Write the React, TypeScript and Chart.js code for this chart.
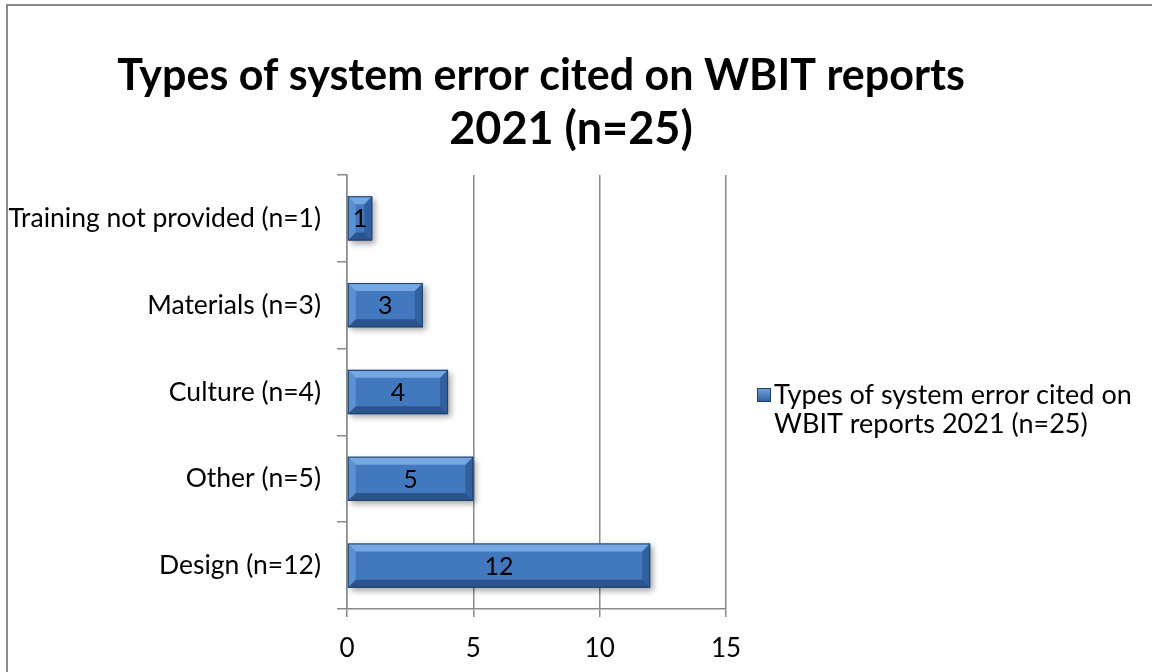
import React, { useEffect, useRef } from "react";
import { Chart, registerables } from "chart.js";

Chart.register(...registerables);

const categories = [
  "Training not provided (n=1)",
  "Materials (n=3)",
  "Culture (n=4)",
  "Other (n=5)",
  "Design (n=12)",
];
const values = [1, 3, 4, 5, 12];
const xTicks = [0, 5, 10, 15];
const seriesName = "Types of system error cited on WBIT reports 2021 (n=25)";
const legendLines = ["Types of system error cited on", "WBIT reports 2021 (n=25)"];
const titleLines = ["Types of system error cited on WBIT reports", "2021 (n=25)"];

const FONT = "Lato, 'Open Sans', sans-serif";

export default function App() {
  const ref = useRef<HTMLCanvasElement | null>(null);

  useEffect(() => {
    document.body.style.margin = "0";
    const canvas = ref.current!;
    const frame = {
      id: "frame",
      beforeDraw(chart: any) {
        const c = chart.ctx;
        c.save();
        c.fillStyle = "#ffffff";
        c.fillRect(0, 0, chart.width, chart.height);
        c.strokeStyle = "#8a8a8a";
        c.lineWidth = 2;
        c.strokeRect(7, 5, chart.width + 20, chart.height + 20);
        c.restore();
      },
      afterDraw(chart: any) {
        const c = chart.ctx;
        c.save();
        c.fillStyle = "#000";
        c.font = `bold 43px ${FONT}`;
        c.textAlign = "center";
        c.textBaseline = "middle";
        c.fillText(titleLines[0], 541, 76);
        c.font = `bold 45px ${FONT}`;
        c.fillText(titleLines[1], 571, 129);
        c.restore();
      },
    };
    const barShadow = {
      id: "barShadow",
      beforeDatasetsDraw(chart: any) {
        const c = chart.ctx;
        c.save();
        c.shadowColor = "rgba(0,0,0,0.35)";
        c.shadowBlur = 6;
        c.shadowOffsetX = 3;
        c.shadowOffsetY = 3;
      },
      afterDatasetsDraw(chart: any) {
        const c = chart.ctx;
        c.restore();
        const meta = chart.getDatasetMeta(0);
        meta.data.forEach((el: any, i: number) => {
          const { x, y, base, height } = el.getProps(["x", "y", "base", "height"], true);
          if (![x, y, base, height].every((v: number) => Number.isFinite(v))) return;
          const l = base, r = x, t = y - height / 2, b = y + height / 2;
          const bv = Math.min(8, (r - l) / 2, height / 2);
          c.save();
          c.fillStyle = "rgba(160,205,255,0.55)";
          c.beginPath();
          c.moveTo(l, t); c.lineTo(r, t); c.lineTo(r - bv, t + bv); c.lineTo(l + bv, t + bv); c.closePath(); c.fill();
          c.fillStyle = "rgba(140,190,245,0.35)";
          c.beginPath();
          c.moveTo(l, t); c.lineTo(l + bv, t + bv); c.lineTo(l + bv, b - bv); c.lineTo(l, b); c.closePath(); c.fill();
          c.fillStyle = "rgba(20,50,100,0.35)";
          c.beginPath();
          c.moveTo(r, t); c.lineTo(r, b); c.lineTo(r - bv, b - bv); c.lineTo(r - bv, t + bv); c.closePath(); c.fill();
          c.fillStyle = "rgba(15,40,85,0.45)";
          c.beginPath();
          c.moveTo(l, b); c.lineTo(l + bv, b - bv); c.lineTo(r - bv, b - bv); c.lineTo(r, b); c.closePath(); c.fill();
          c.strokeStyle = "#1f3f66";
          c.lineWidth = 1;
          c.strokeRect(l + 0.5, t + 0.5, r - l - 1, b - t - 1);
          c.fillStyle = "#000000";
          c.font = `25px ${FONT}`;
          c.textAlign = "center";
          c.textBaseline = "middle";
          c.fillText(String(values[i]), (l + r) / 2, y + 1);
          c.restore();
        });
      },
    };
    const customLegend = {
      id: "customLegend",
      afterDraw(chart: any) {
        const c = chart.ctx;
        c.save();
        const bx = 757, by = 388, s = 14;
        const g = c.createLinearGradient(0, by, 0, by + s);
        g.addColorStop(0, "#6fa3e0");
        g.addColorStop(1, "#2f5f9c");
        c.fillStyle = g;
        c.fillRect(bx, by, s, s);
        c.strokeStyle = "#1f3f66";
        c.lineWidth = 1;
        c.strokeRect(bx + 0.5, by + 0.5, s - 1, s - 1);
        c.fillStyle = "#000";
        c.font = `27px ${FONT}`;
        c.textAlign = "left";
        c.textBaseline = "middle";
        c.fillText(legendLines[0], 774, 395);
        c.fillText(legendLines[1], 774, 424);
        c.restore();
      },
    };

    const chart = new Chart(canvas, {
      type: "bar",
      data: {
        labels: categories,
        datasets: [
          {
            label: seriesName,
            data: values,
            backgroundColor: (ctx: any) => {
              const ch = ctx.chart;
              const el: any = ch.getDatasetMeta(0).data[ctx.dataIndex];
              if (!el) return "#4279be";
              const h = el.height;
              const y = el.y;
              if (!Number.isFinite(h) || !Number.isFinite(y)) return "#4279be";
              const g = ch.ctx.createLinearGradient(0, y - h / 2, 0, y + h / 2);
              g.addColorStop(0, "#5a97dc");
              g.addColorStop(0.5, "#4479bd");
              g.addColorStop(1, "#3a6cae");
              return g;
            },
            borderWidth: 0,
            barPercentage: 0.51,
            categoryPercentage: 1,
          },
        ],
      },
      options: {
        indexAxis: "y",
        animation: false,
        responsive: false,
        maintainAspectRatio: false,
        layout: { padding: { left: 7, right: 426, top: 175, bottom: 0 } },
        plugins: {
          legend: { display: false },
          tooltip: { enabled: false },
          title: { display: false },
        },
        scales: {
          x: {
            type: "linear",
            min: 0,
            max: 15,
            afterBuildTicks: (scale: any) => {
              scale.ticks = xTicks.map((v) => ({ value: v }));
            },
            afterFit: (scale: any) => {
              scale.height = 63;
            },
            grid: {
              color: "#8a8a8a",
              lineWidth: 1.5,
              tickLength: 8,
              drawTicks: true,
            },
            border: { display: true, color: "#8a8a8a", width: 1.5 },
            ticks: {
              color: "#000",
              font: { family: FONT, size: 26 },
              padding: 16,
            },
          },
          y: {
            type: "category",
            afterFit: (scale: any) => {
              scale.width = 340;
            },
            grid: {
              offset: true,
              drawOnChartArea: false,
              color: "#8a8a8a",
              lineWidth: 1.5,
              tickLength: 10,
            },
            border: { display: true, color: "#8a8a8a", width: 1.5 },
            ticks: {
              color: "#000",
              font: { family: FONT, size: 26.5 },
              padding: 16,
            },
          },
        },
      },
      plugins: [frame, barShadow, customLegend],
    } as any);
    return () => chart.destroy();
  }, []);

  return (
    <div style={{ position: "absolute", left: 0, top: 0, width: 1152, height: 672 }}>
      <canvas ref={ref} width={1152} height={672} style={{ display: "block", width: 1152, height: 672 }} />
    </div>
  );
}
